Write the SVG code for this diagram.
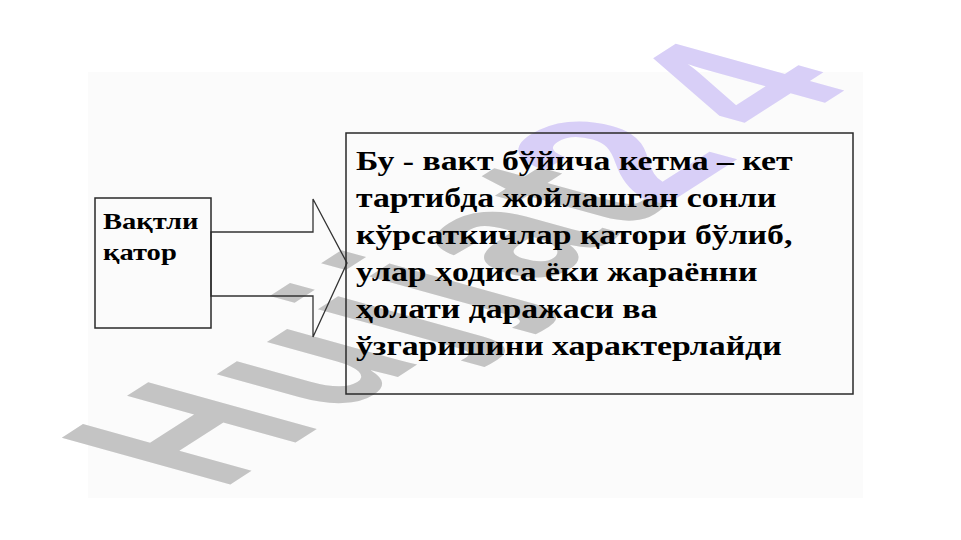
<svg xmlns="http://www.w3.org/2000/svg" width="961" height="540" viewBox="0 0 961 540">
<style>
.bg{fill:#ffffff}
.panel{fill:#fbfbfb}
.wm{font-family:"Liberation Sans",Arial,sans-serif;font-weight:bold;font-size:100px;letter-spacing:7px}
.wg{fill:#c4c4c4}
.wp{fill:#d8cff7}
.box{fill:none;stroke:#2a2a2a;stroke-width:1.5}
.arrow{fill:none;stroke:#333333;stroke-width:1.3;stroke-linejoin:miter}
.t{font-family:"Liberation Serif","Times New Roman",serif;font-weight:bold;fill:#000000}
.big{font-size:27px}
.small{font-size:24px}
</style>
<rect class="bg" x="0" y="0" width="961" height="540"/>
<rect class="panel" x="88" y="72" width="775" height="426"/>
<g id="watermark">
<text class="wm" transform="matrix(1.47,-0.943,2.45,0.68,220.6,490.7)"><tspan class="wg">Hujja</tspan><tspan class="wg" dx="-6">t</tspan><tspan class="wp" dx="-14">2</tspan><tspan class="wp" dx="16">4</tspan></text>
</g>
<g id="connectors">
<polygon class="arrow" points="211,232 313,232 313,199 347,263 313,337 313,296 211,296"/>
</g>
<g id="node-left">
<rect class="box" x="95" y="198" width="116" height="130"/>
<g transform="translate(103 0) scale(1.19 1)">
<text class="t small" x="0" y="229">Вақтли</text>
<text class="t small" x="0" y="260">қатор</text>
</g>
</g>
<g id="node-right">
<rect class="box" x="346" y="133" width="507" height="261"/>
<g transform="translate(356 0) scale(1.25 1)">
<text class="t big" x="0" y="170">Бу - вакт бўйича кетма – кет</text>
<text class="t big" x="0" y="207">тартибда жойлашган сонли</text>
<text class="t big" x="0" y="244">кўрсаткичлар қатори бўлиб,</text>
<text class="t big" x="0" y="281">улар ҳодиса ёки жараённи</text>
<text class="t big" x="0" y="318">ҳолати даражаси ва</text>
<text class="t big" x="0" y="355">ўзгаришини характерлайди</text>
</g>
</g>
</svg>
